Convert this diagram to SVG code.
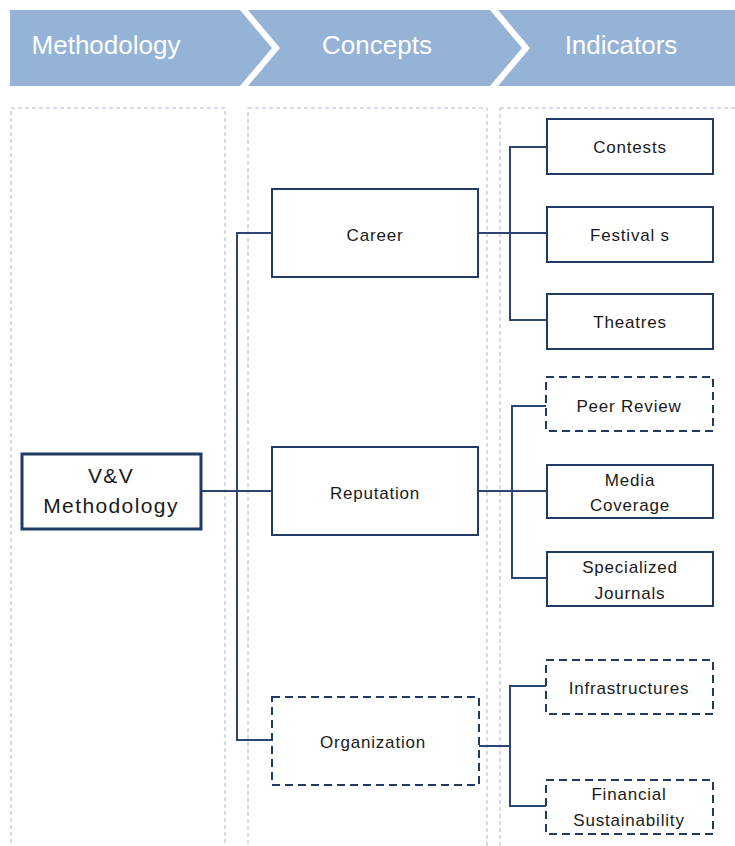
<svg xmlns="http://www.w3.org/2000/svg" width="735" height="846" viewBox="0 0 735 846">
<style>
.hdr{fill:#95B3D7}
.htxt{font-family:"Liberation Sans",Arial,sans-serif;font-size:26px;fill:#ffffff;text-anchor:middle}
.col{fill:none;stroke:#A9B8C8;stroke-width:1;stroke-dasharray:4 3}
.box{fill:#ffffff;stroke:#1F3A63;stroke-width:2}
.dbox{fill:#ffffff;stroke:#1F3A63;stroke-width:2;stroke-dasharray:8 5}
.main{fill:#ffffff;stroke:#1F3A63;stroke-width:3}
.t{font-family:"Liberation Sans",Arial,sans-serif;font-size:17px;fill:#1a1a1a;text-anchor:middle;letter-spacing:0.8px}
.tm{font-family:"Liberation Sans",Arial,sans-serif;font-size:21px;fill:#1a1a1a;text-anchor:middle;letter-spacing:1.4px}
.ln{fill:none;stroke:#2B4670;stroke-width:2}
</style>
<rect width="735" height="846" fill="#ffffff"/>
<g id="header">
<polygon class="hdr" points="10,10 240,10 272,48 240,86 10,86"/>
<polygon class="hdr" points="248,10 490,10 522,48 490,86 248,86 280,48"/>
<polygon class="hdr" points="498,10 735,10 735,86 498,86 530,48"/>
<text class="htxt" x="106" y="54">Methodology</text>
<text class="htxt" x="377" y="54">Concepts</text>
<text class="htxt" x="621" y="54">Indicators</text>
</g>
<g id="columns">
<rect class="col" x="11" y="108" width="214" height="745"/>
<rect class="col" x="248" y="108" width="239" height="745"/>
<rect class="col" x="500" y="108" width="240" height="745"/>
</g>
<g id="connectors">
<path class="ln" d="M200,491 H272"/>
<path class="ln" d="M272,233 H237 V740 H272"/>
<path class="ln" d="M478,233 H547"/>
<path class="ln" d="M547,147 H510 V320 H547"/>
<path class="ln" d="M478,491 H547"/>
<path class="ln" d="M547,406 H512 V578 H547"/>
<path class="ln" d="M479,746 H510"/>
<path class="ln" d="M547,686 H510 V806 H547"/>
</g>
<g id="vv">
<rect class="main" x="22" y="454" width="179" height="75"/>
<text class="tm" x="111" y="483">V&amp;V</text>
<text class="tm" x="111" y="513">Methodology</text>
</g>
<g id="career">
<rect class="box" x="272" y="189" width="206" height="88"/>
<text class="t" x="375" y="241">Career</text>
</g>
<g id="reputation">
<rect class="box" x="272" y="447" width="206" height="88"/>
<text class="t" x="375" y="499">Reputation</text>
</g>
<g id="organization">
<rect class="dbox" x="272" y="697" width="207" height="88"/>
<text class="t" x="373" y="748">Organization</text>
</g>
<g id="contests">
<rect class="box" x="547" y="119" width="166" height="55"/>
<text class="t" x="630" y="153">Contests</text>
</g>
<g id="festivals">
<rect class="box" x="547" y="207" width="166" height="55"/>
<text class="t" x="630" y="241">Festival s</text>
</g>
<g id="theatres">
<rect class="box" x="547" y="294" width="166" height="55"/>
<text class="t" x="630" y="328">Theatres</text>
</g>
<g id="peer-review">
<rect class="dbox" x="546" y="377" width="167" height="54"/>
<text class="t" x="629" y="412">Peer Review</text>
</g>
<g id="media-coverage">
<rect class="box" x="547" y="465" width="166" height="53"/>
<text class="t" x="630" y="486">Media</text>
<text class="t" x="630" y="511">Coverage</text>
</g>
<g id="specialized-journals">
<rect class="box" x="547" y="552" width="166" height="54"/>
<text class="t" x="630" y="573">Specialized</text>
<text class="t" x="630" y="599">Journals</text>
</g>
<g id="infrastructures">
<rect class="dbox" x="546" y="660" width="167" height="54"/>
<text class="t" x="629" y="694">Infrastructures</text>
</g>
<g id="financial-sustainability">
<rect class="dbox" x="546" y="780" width="167" height="54"/>
<text class="t" x="629" y="800">Financial</text>
<text class="t" x="629" y="826">Sustainability</text>
</g>
</svg>
